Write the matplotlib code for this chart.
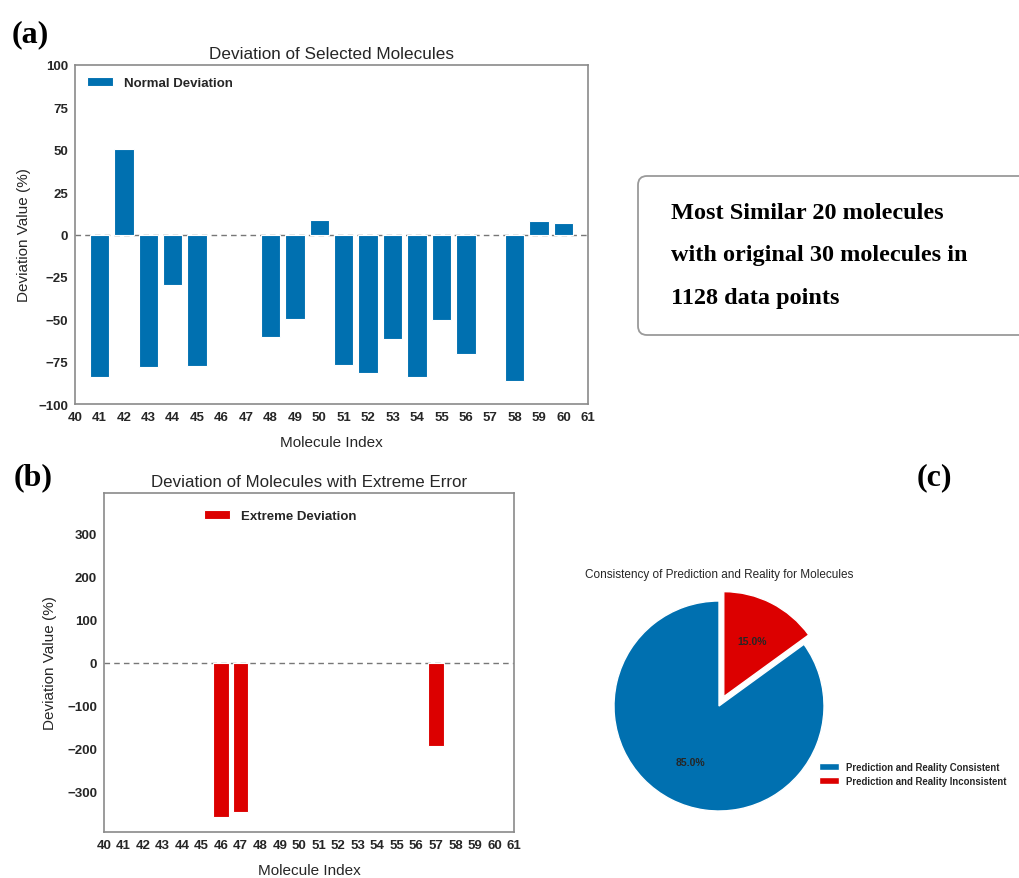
import matplotlib
matplotlib.use("Agg")
import matplotlib.pyplot as plt
from matplotlib.patches import FancyBboxPatch

# ---------------- data ----------------
normal_idx = [41, 42, 43, 44, 45, 48, 49, 50, 51, 52, 53, 54, 55, 56, 58, 59, 60]
normal_dev = [-84.3, 50.5, -78.2, -29.7, -77.8, -60.5, -49.7, 8.8, -76.8, -81.9,
              -61.9, -84.1, -50.7, -70.3, -86.6, 7.7, 6.9]
extreme_idx = [46, 47, 57]
extreme_dev = [-357.0, -346.5, -193.0]
pie_labels = ["Prediction and Reality Consistent", "Prediction and Reality Inconsistent"]
pie_sizes = [85.0, 15.0]
x_ticks = list(range(40, 62))
box_text = "Most Similar 20 molecules\nwith original 30 molecules in\n1128 data points"

BLUE = "#0070B0"
RED = "#DC0000"
DARK = "#262626"
SPINE = "#8a8a8a"

W, H = 1019, 879
fig = plt.figure(figsize=(W / 100, H / 100), dpi=100)
plt.rcParams["font.family"] = ["Liberation Sans", "DejaVu Sans"]


def ax_px(left, top, right, bottom):
    return fig.add_axes([left / W, 1 - bottom / H, (right - left) / W, (bottom - top) / H])


def style_axes(ax):
    for s in ax.spines.values():
        s.set_color(SPINE)
        s.set_linewidth(1.2)
    ax.tick_params(length=0, pad=5, labelsize=9.5, colors=DARK)
    for lab in ax.get_xticklabels() + ax.get_yticklabels():
        lab.set_fontweight("bold")


# overlay for box and panel labels
ov = fig.add_axes([0, 0, 1, 1])
ov.set_xlim(0, W)
ov.set_ylim(H, 0)
ov.axis("off")
ov.add_patch(FancyBboxPatch((638, 177), 420, 159,
                            boxstyle="round,pad=0,rounding_size=9",
                            facecolor="white", edgecolor="#9a9a9a", linewidth=1.3))
ov.text(671, 256, box_text, fontsize=17.5, fontweight="bold",
        family=["Liberation Serif"], va="center", ha="left",
        linespacing=2.32, color="black")
for t, x, y in [("(a)", 12, 35), ("(b)", 14, 478), ("(c)", 917, 478)]:
    ov.text(x, y, t, fontsize=23, fontweight="bold", family=["Liberation Serif"],
            va="center", ha="left", color="black")

# ---------------- panel (a) ----------------
axa = ax_px(75, 66, 588, 405)
axa.bar(normal_idx, normal_dev, width=0.8, color=BLUE, edgecolor="white",
        linewidth=0.8, label="Normal Deviation", zorder=2)
axa.axhline(0, color="#777777", linestyle="--", linewidth=1, dashes=(4, 3), zorder=1)
axa.set_xlim(40, 61)
axa.set_ylim(-100, 100)
axa.set_xticks(x_ticks)
axa.set_yticks([-100, -75, -50, -25, 0, 25, 50, 75, 100])
axa.set_title("Deviation of Selected Molecules", fontsize=12.3, color=DARK, pad=5)
axa.set_xlabel("Molecule Index", fontsize=11, color=DARK, labelpad=9)
axa.set_ylabel("Deviation Value (%)", fontsize=11, color=DARK, labelpad=5)
style_axes(axa)
leg = axa.legend(loc="upper left", frameon=False,
                 prop={"weight": "bold", "size": 9.5})
for t in leg.get_texts():
    t.set_color(DARK)

# ---------------- panel (b) ----------------
axb = ax_px(104, 494, 514, 833)
axb.bar(extreme_idx, extreme_dev, width=0.8, color=RED, edgecolor="white",
        linewidth=0.8, label="Extreme Deviation", zorder=2)
axb.axhline(0, color="#777777", linestyle="--", linewidth=1, dashes=(4, 3), zorder=1)
lim = 1.1 * max(abs(v) for v in extreme_dev)
axb.set_xlim(40, 61)
axb.set_ylim(-lim, lim)
axb.set_xticks(x_ticks)
axb.set_yticks([-300, -200, -100, 0, 100, 200, 300])
axb.set_title("Deviation of Molecules with Extreme Error", fontsize=12.2, color=DARK, pad=5)
axb.set_xlabel("Molecule Index", fontsize=11, color=DARK, labelpad=9)
axb.set_ylabel("Deviation Value (%)", fontsize=11, color=DARK, labelpad=7)
style_axes(axb)
legb = axb.legend(loc="upper left", bbox_to_anchor=(0.214, 0.985), frameon=False,
                  prop={"weight": "bold", "size": 9.5})
for t in legb.get_texts():
    t.set_color(DARK)

# ---------------- panel (c) ----------------
r = 105
cx, cy = 719, 707
axc = ax_px(cx - 1.25 * r, cy - 1.25 * r, cx + 1.25 * r, cy + 1.25 * r)
wedges, texts, autotexts = axc.pie(
    pie_sizes, explode=[0, 0.1], colors=[BLUE, RED], startangle=90,
    autopct="%1.1f%%", pctdistance=0.6,
    wedgeprops={"edgecolor": "white", "linewidth": 1},
    textprops={"fontsize": 7.5, "fontweight": "bold", "color": DARK})
axc.set_xlim(-1.25, 1.25)
axc.set_ylim(-1.25, 1.25)
fig.text(cx / W, 1 - 575 / H, "Consistency of Prediction and Reality for Molecules",
         fontsize=8.5, color=DARK, ha="center", va="center")
legc = fig.legend(wedges, pie_labels, loc="center left",
                  bbox_to_anchor=(810 / W, 1 - 775 / H), frameon=False,
                  prop={"weight": "bold", "size": 6.9}, handlelength=2.1,
                  labelspacing=0.45)
for t in legc.get_texts():
    t.set_color(DARK)

fig.savefig("out.png", dpi=100, facecolor="white")
